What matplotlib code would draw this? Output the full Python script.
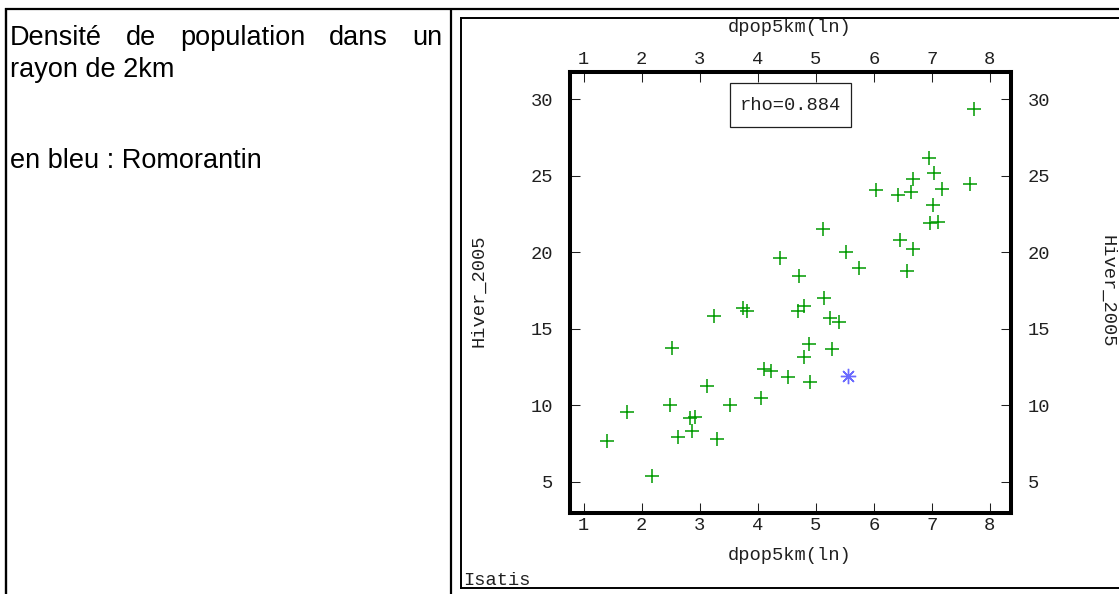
import matplotlib
matplotlib.use("Agg")
import matplotlib.pyplot as plt
from matplotlib.lines import Line2D
from matplotlib.patches import Rectangle

# ---------------------------------------------------------------- data
dpop5km_ln = [7.73, 6.96, 7.03, 6.67, 6.03, 6.42, 6.64, 7.17, 7.65, 7.02,
              6.97, 7.10, 5.13, 6.45, 6.67, 5.52, 4.38, 5.74, 6.58, 4.71,
              5.14, 3.25, 3.74, 3.82, 4.69, 4.80, 5.25, 5.40, 2.53, 4.89,
              5.28, 4.79, 4.11, 4.22, 4.52, 4.90, 3.13, 4.05, 2.48, 3.52,
              1.75, 2.92, 2.84, 2.87, 2.63, 3.29, 1.40, 2.18]
hiver_2005 = [29.37, 26.18, 25.20, 24.77, 24.05, 23.75, 23.96, 24.14, 24.44, 23.07,
              21.90, 22.00, 21.54, 20.80, 20.22, 20.00, 19.61, 19.00, 18.79, 18.47,
              17.00, 15.84, 16.34, 16.16, 16.16, 16.51, 15.69, 15.43, 13.74, 14.00,
              13.70, 13.18, 12.37, 12.26, 11.83, 11.50, 11.24, 10.48, 10.04, 10.02,
              9.54, 9.26, 9.15, 8.34, 7.95, 7.82, 7.69, 5.36]
romorantin_x = [5.56]
romorantin_y = [11.93]

x_ticks = [1, 2, 3, 4, 5, 6, 7, 8]
y_ticks = [5, 10, 15, 20, 25, 30]
rho = 0.884

x_label = "dpop5km(ln)"
y_label = "Hiver_2005"
note_line1 = ["Densité", "de", "population", "dans", "un"]
note_line2 = "rayon de 2km"
note_line3 = "en bleu : Romorantin"

# ---------------------------------------------------------------- canvas
W, H, DPI = 1119, 594, 100
fig = plt.figure(figsize=(W / DPI, H / DPI), dpi=DPI)
fig.patch.set_facecolor("white")

MONO = "Liberation Mono"
SANS = "Liberation Sans"
MONO_SIZE = 13.5
SANS_SIZE = 19.5


def fx(x):
    return x / W


def fy(y):
    return 1 - y / H


def hline(x0, x1, y, lw):
    fig.add_artist(Line2D([fx(x0), fx(x1)], [fy(y), fy(y)], color="black",
                          lw=lw, solid_capstyle="butt"))


def vline(x, y0, y1, lw):
    fig.add_artist(Line2D([fx(x), fx(x)], [fy(y0), fy(y1)], color="black",
                          lw=lw, solid_capstyle="butt"))


# table frame around the note and the graphic
hline(5, W + 5, 9, 1.6)
vline(6, 8, H + 5, 1.7)
vline(451, 8, H + 5, 1.6)

# frame of the graphic panel
hline(460, W + 5, 18, 1.4)
vline(461, 17, 589, 1.4)
hline(460, W + 5, 588, 1.4)

# ---------------------------------------------------------------- note text
renderer = fig.canvas.get_renderer()
words = [fig.text(0, fy(45), w, family=SANS, fontsize=SANS_SIZE,
                  ha="left", va="baseline") for w in note_line1]
widths = [t.get_window_extent(renderer).width for t in words]
left, right = 10, 442
gap = (right - left - sum(widths)) / (len(words) - 1)
pos = left
for t, wd in zip(words, widths):
    t.set_x(fx(pos))
    pos += wd + gap

fig.text(fx(10), fy(77), note_line2, family=SANS, fontsize=SANS_SIZE,
         ha="left", va="baseline")
fig.text(fx(10), fy(168), note_line3, family=SANS, fontsize=SANS_SIZE,
         ha="left", va="baseline")

# ---------------------------------------------------------------- scatter
x0, x1, y0, y1 = 570, 1010.7, 72, 512.7
ax = fig.add_axes([fx(x0), fy(y1), (x1 - x0) / W, (y1 - y0) / H])
ax.set_xlim(0.764, 8.36)
ax.set_ylim(2.98, 31.78)

ax.plot(dpop5km_ln, hiver_2005, linestyle="none", marker="+", ms=10.5,
        mew=1.1, color="#009a00", clip_on=False, zorder=3)
ax.plot(romorantin_x, romorantin_y, linestyle="none", marker=(8, 2, 0),
        ms=11, mew=1.0, color="#6a6aff", clip_on=False, zorder=3)

for s in ax.spines.values():
    s.set_linewidth(2.9)
    s.set_color("black")

ax.set_xticks(x_ticks)
ax.set_yticks(y_ticks)
ax.tick_params(axis="both", which="both", direction="in", length=7.2,
               width=0.75, color="#202020", labelsize=MONO_SIZE,
               labelcolor="#202020", top=True, right=True,
               labeltop=True, labelright=True)
ax.tick_params(axis="x", pad=3)
ax.tick_params(axis="y", pad=12)
for lab in ax.get_xticklabels() + ax.get_yticklabels():
    lab.set_family(MONO)

# correlation box
fig.add_artist(Rectangle((fx(730), fy(127)), (851 - 730) / W, (127 - 83) / H,
                         transform=fig.transFigure, facecolor="white",
                         edgecolor="#202020", lw=0.9, zorder=5))
fig.text(fx(790.5), fy(105), f"rho={rho:.3f}", family=MONO,
         fontsize=MONO_SIZE, ha="center", va="center", color="#202020",
         zorder=6)

# axis titles
fig.text(fx(790), fy(27), x_label, family=MONO, fontsize=MONO_SIZE,
         ha="center", va="center", color="#202020")
fig.text(fx(790), fy(556), x_label, family=MONO, fontsize=MONO_SIZE,
         ha="center", va="center", color="#202020")
fig.text(fx(479), fy(291), y_label, family=MONO, fontsize=MONO_SIZE,
         ha="center", va="center", rotation=90, color="#202020")
fig.text(fx(1107), fy(291), y_label, family=MONO, fontsize=MONO_SIZE,
         ha="center", va="center", rotation=-90, color="#202020")

fig.text(fx(463), fy(585), "Isatis", family=MONO, fontsize=MONO_SIZE,
         ha="left", va="baseline", color="#202020")

fig.savefig("out.png", dpi=DPI)
